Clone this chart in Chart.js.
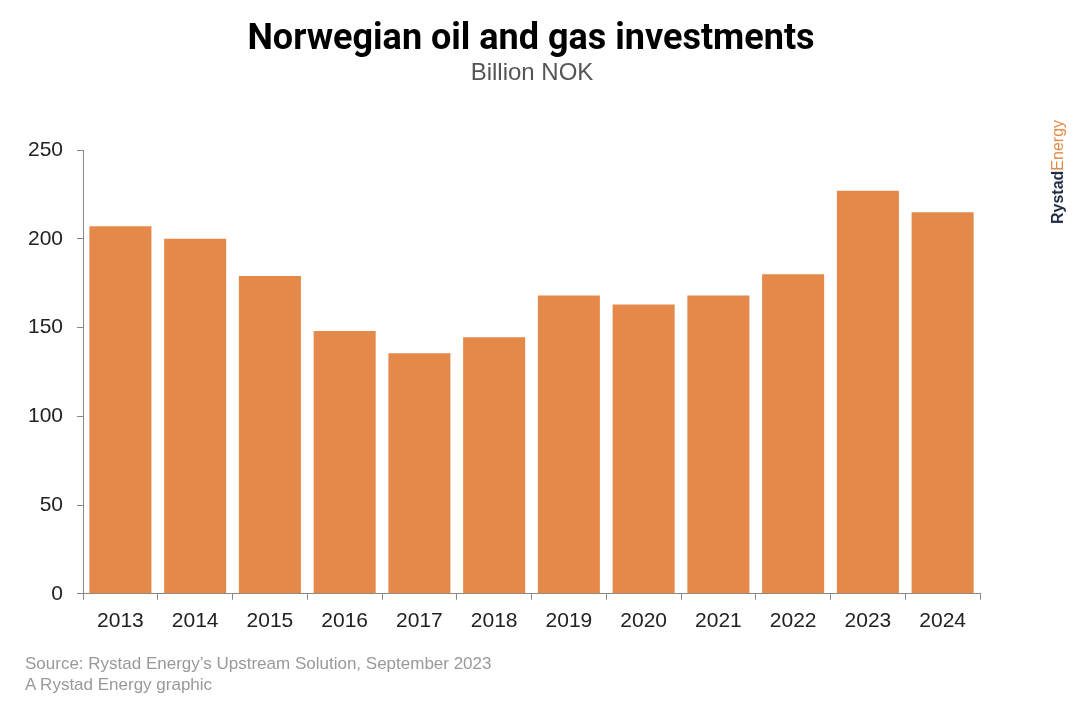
<!DOCTYPE html>
<html>
<head>
    <title>Norwegian oil and gas investments</title>
    <script src="https://cdn.jsdelivr.net/npm/chart.js"></script>
    <style>
        body { margin: 0; background: #fff; font-family: "Liberation Sans", Arial, sans-serif; }
        #wrap { position: relative; width: 1090px; height: 720px; overflow: hidden; }
        #chartBox { position: absolute; left: 0; top: 0; width: 1090px; height: 720px; }
        .title { position: absolute; left: 0; width: 1062px; text-align: center; top: 16px;
                 font-family: Roboto, sans-serif; font-weight: 700; font-size: 36px; color: #000; }
        .subtitle { position: absolute; left: 0; width: 1064px; text-align: center; top: 58px;
                    font-size: 24px; color: #555; }
        .source { position: absolute; left: 25px; top: 653px; font-size: 17px; color: #999; line-height: 21px; }
        .logo { position: absolute; left: 1058px; top: 172px; transform: translate(-50%, -50%) rotate(-90deg);
                font-size: 16px; white-space: nowrap; }
        .logo b { color: #1f2a44; }
        .logo span { color: #e38a45; }
    </style>
</head>
<body>
<div id="wrap">
    <div id="chartBox"><canvas id="investChart"></canvas></div>
    <div class="title">Norwegian oil and gas investments</div>
    <div class="subtitle">Billion NOK</div>
    <div class="source">Source: Rystad Energy’s Upstream Solution, September 2023<br>A Rystad Energy graphic</div>
    <div class="logo"><b>Rystad</b><span>Energy</span></div>
</div>
<script>
    // data
    const years = ['2013', '2014', '2015', '2016', '2017', '2018', '2019', '2020', '2021', '2022', '2023', '2024'];
    const investments = [207, 200, 179, 148, 135.5, 144.5, 168, 163, 168, 180, 227, 215];
    const yTicks = [0, 50, 100, 150, 200, 250];

    const ctx = document.getElementById('investChart').getContext('2d');
    new Chart(ctx, {
        type: 'bar',
        data: {
            labels: years,
            datasets: [{
                label: 'Investments',
                data: investments,
                backgroundColor: '#e4894a',
                categoryPercentage: 1.0,
                barPercentage: 0.83
            }]
        },
        options: {
            responsive: true,
            maintainAspectRatio: false,
            animation: false,
            layout: { padding: { top: 150, left: 14, right: 110, bottom: 77 } },
            plugins: { legend: { display: false }, tooltip: { enabled: false } },
            scales: {
                x: {
                    offset: true,
                    border: { color: '#888', width: 1 },
                    grid: { display: true, drawOnChartArea: false, offset: true, color: '#888', tickLength: 6 },
                    ticks: { color: '#222', font: { family: 'Liberation Sans', size: 21 }, padding: 9 }
                },
                y: {
                    min: 0,
                    max: 250,
                    afterBuildTicks: function(axis) { axis.ticks = yTicks.map(v => ({ value: v })); },
                    border: { color: '#888', width: 1 },
                    grid: { display: true, drawOnChartArea: false, color: '#888', tickLength: 6 },
                    ticks: { color: '#222', font: { family: 'Liberation Sans', size: 21 }, padding: 14 }
                }
            }
        }
    });
</script>
</body>
</html>
